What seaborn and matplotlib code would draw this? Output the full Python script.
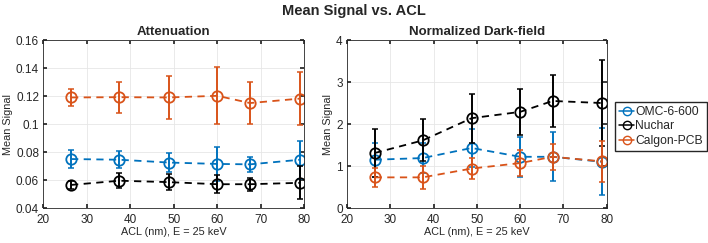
import numpy as np
import pandas as pd
import matplotlib.pyplot as plt
import seaborn as sns
from matplotlib.lines import Line2D

# 데이터
acl = [26.4, 37.5, 48.8, 60.0, 67.5, 79.0]
samples = ['OMC-6-600', 'Nuchar', 'Calgon-PCB']
colors = {'OMC-6-600': '#0072BD', 'Nuchar': '#000000', 'Calgon-PCB': '#D95319'}

att_omc = [0.0750, 0.0745, 0.0725, 0.0715, 0.0712, 0.0745]
att_omc_err = [0.0065, 0.0060, 0.0065, 0.0120, 0.0055, 0.0135]
att_nuchar = [0.0565, 0.0595, 0.0585, 0.0570, 0.0570, 0.0580]
att_nuchar_err = [0.0030, 0.0055, 0.0055, 0.0065, 0.0048, 0.0118]
att_calgon = [0.1190, 0.1192, 0.1190, 0.1202, 0.1150, 0.1182]
att_calgon_err = [0.0062, 0.0110, 0.0152, 0.0205, 0.0148, 0.0190]

df_omc = [1.15, 1.19, 1.43, 1.22, 1.22, 1.10]
df_omc_err = [0.40, 0.35, 0.46, 0.48, 0.58, 0.80]
df_nuchar = [1.31, 1.61, 2.14, 2.29, 2.55, 2.50]
df_nuchar_err = [0.57, 0.50, 0.58, 0.55, 0.62, 1.03]
df_calgon = [0.73, 0.73, 0.94, 1.07, 1.22, 1.11]
df_calgon_err = [0.23, 0.27, 0.26, 0.30, 0.31, 0.49]

sns.set_theme(style='whitegrid')
plt.rcParams['font.family'] = ['Liberation Sans', 'DejaVu Sans']
plt.rcParams['xtick.direction'] = 'in'
plt.rcParams['ytick.direction'] = 'in'

fig = plt.figure(figsize=(7.08, 2.43), dpi=100)
ax1 = fig.add_axes([0.061, 0.144, 0.369, 0.691])
ax2 = fig.add_axes([0.490, 0.144, 0.367, 0.691])


def draw_panel(ax, series, title, ylim, yticks, yticklabels):
    for name, (vals, errs) in zip(samples, series):
        c = colors[name]
        d = pd.DataFrame({'x': acl, 'y': vals})
        sns.lineplot(data=d, x='x', y='y', ax=ax, color=c, linestyle=(0, (4, 3)),
                     linewidth=1.3, marker='o', markersize=7.5, markerfacecolor='none',
                     markeredgecolor=c, markeredgewidth=1.3, legend=False)
        ax.errorbar(acl, vals, yerr=errs, fmt='none', ecolor=c, elinewidth=1.4,
                    capsize=2, capthick=1.1)
    ax.set_xlim(20, 80)
    ax.set_xticks(range(20, 81, 10))
    ax.set_ylim(*ylim)
    ax.set_yticks(yticks)
    ax.set_yticklabels(yticklabels)
    ax.set_xlabel('ACL (nm), E = 25 keV', fontsize=7.8, labelpad=1)
    ax.set_ylabel('Mean Signal', fontsize=7.8, labelpad=2)
    ax.set_title(title, fontsize=9.5, fontweight='bold', pad=4)
    ax.tick_params(labelsize=8.5, length=3, color='#262626',
                   top=True, right=True, bottom=True, left=True)
    ax.tick_params(axis='x', pad=4)
    ax.tick_params(axis='y', pad=3)
    ax.grid(True, color='#e6e6e6', linewidth=0.6)
    for s in ax.spines.values():
        s.set_visible(True)
        s.set_color('#262626')
        s.set_linewidth(0.6)


draw_panel(ax1,
           [(att_omc, att_omc_err), (att_nuchar, att_nuchar_err), (att_calgon, att_calgon_err)],
           'Attenuation', (0.04, 0.16), [0.04, 0.06, 0.08, 0.1, 0.12, 0.14, 0.16],
           ['0.04', '0.06', '0.08', '0.1', '0.12', '0.14', '0.16'])
draw_panel(ax2,
           [(df_omc, df_omc_err), (df_nuchar, df_nuchar_err), (df_calgon, df_calgon_err)],
           'Normalized Dark-field', (0, 4), [0, 1, 2, 3, 4], ['0', '1', '2', '3', '4'])

handles = [Line2D([0], [0], color=colors[n], marker='o', markerfacecolor='none',
                  markersize=6, linewidth=1.1) for n in samples]
fig.legend(handles, samples, loc='upper left', bbox_to_anchor=(0.869, 0.582),
           fontsize=8.7, handlelength=1.2, handletextpad=0.1, borderpad=0.35,
           labelspacing=0.22, borderaxespad=0, frameon=True, fancybox=False,
           edgecolor='#262626', framealpha=1)

fig.suptitle('Mean Signal vs. ACL', fontsize=10.5, fontweight='bold', y=0.985)

fig.savefig('out.png', dpi=100)
